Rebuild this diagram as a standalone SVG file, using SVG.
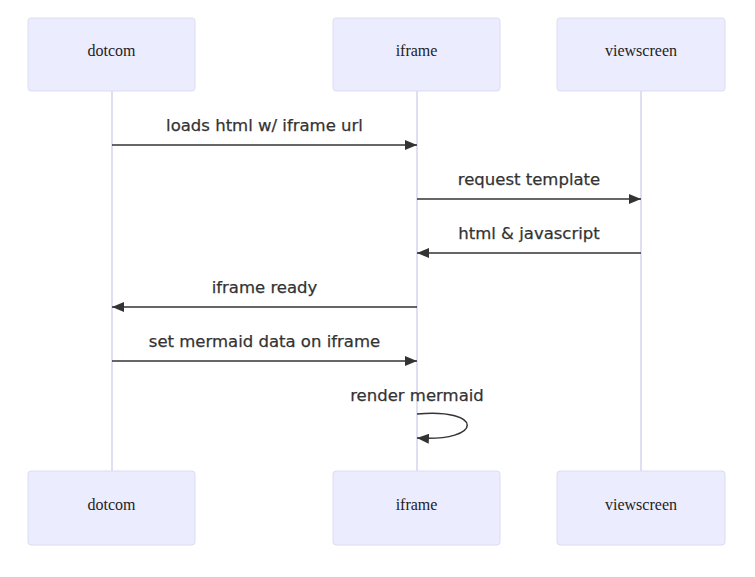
<svg xmlns="http://www.w3.org/2000/svg" width="755" height="577" viewBox="0 0 755 577">
<style>
.actor{fill:#ECECFF;stroke:#dcdcf2;stroke-width:1}
.atext{font-family:"Liberation Serif",serif;font-size:16px;fill:#222;text-anchor:middle;dominant-baseline:central}
.life{stroke:#d4d4ee;stroke-width:1.5}
.msg{stroke:#333;stroke-width:1.5;fill:none}
.mtext{font-family:"DejaVu Sans","Noto Sans",sans-serif;font-size:16.5px;fill:#333;stroke:#333;stroke-width:0.25;text-anchor:middle}
</style>
<defs>
<marker id="arrow" viewBox="0 0 12 10" refX="12" refY="5" markerWidth="12" markerHeight="10" markerUnits="userSpaceOnUse" orient="auto">
<path d="M0,0 L12,5 L0,10 z" fill="#333"/>
</marker>
</defs>
<rect width="755" height="577" fill="#fff"/>
<g id="lifelines">
<line class="life" x1="112" y1="91" x2="112" y2="471"/>
<line class="life" x1="417" y1="91" x2="417" y2="471"/>
<line class="life" x1="641" y1="91" x2="641" y2="471"/>
</g>
<g id="dotcom-top"><rect class="actor" x="28" y="18" width="167" height="73" rx="3"/><text class="atext" x="111.5" y="50">dotcom</text></g>
<g id="iframe-top"><rect class="actor" x="333" y="18" width="167" height="73" rx="3"/><text class="atext" x="416.5" y="50">iframe</text></g>
<g id="viewscreen-top"><rect class="actor" x="557" y="18" width="168" height="73" rx="3"/><text class="atext" x="641" y="50">viewscreen</text></g>
<g id="dotcom-bottom"><rect class="actor" x="28" y="471" width="167" height="74" rx="3"/><text class="atext" x="111.5" y="504">dotcom</text></g>
<g id="iframe-bottom"><rect class="actor" x="333" y="471" width="167" height="74" rx="3"/><text class="atext" x="416.5" y="504">iframe</text></g>
<g id="viewscreen-bottom"><rect class="actor" x="557" y="471" width="168" height="74" rx="3"/><text class="atext" x="641" y="504">viewscreen</text></g>
<g id="connectors">
<line class="msg" x1="112" y1="145" x2="417" y2="145" marker-end="url(#arrow)"/>
<line class="msg" x1="417" y1="199" x2="641" y2="199" marker-end="url(#arrow)"/>
<line class="msg" x1="641" y1="253" x2="417" y2="253" marker-end="url(#arrow)"/>
<line class="msg" x1="417" y1="307" x2="112" y2="307" marker-end="url(#arrow)"/>
<line class="msg" x1="112" y1="361" x2="417" y2="361" marker-end="url(#arrow)"/>
<path class="msg" d="M417,414 C484,408 484,442 417,438" marker-end="url(#arrow)"/>
</g>
<g id="labels">
<text class="mtext" x="264.5" y="131">loads html w/ iframe url</text>
<text class="mtext" x="529" y="185">request template</text>
<text class="mtext" x="529" y="239">html &amp; javascript</text>
<text class="mtext" x="264.5" y="293">iframe ready</text>
<text class="mtext" x="264.5" y="347">set mermaid data on iframe</text>
<text class="mtext" x="417" y="401">render mermaid</text>
</g>
</svg>
